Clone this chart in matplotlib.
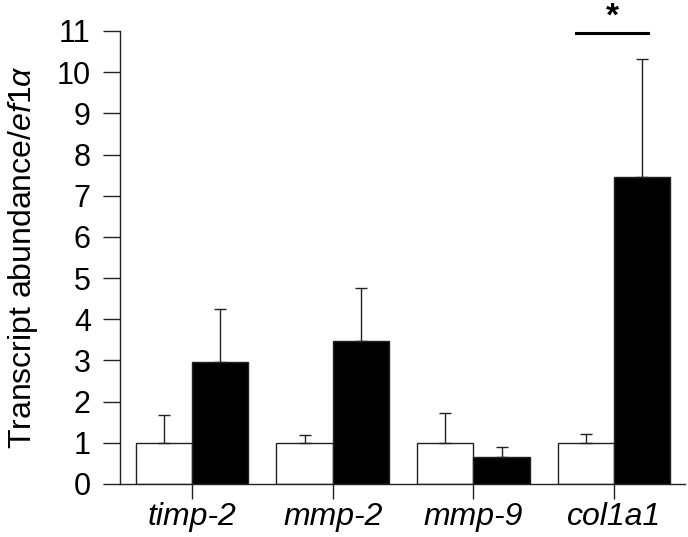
"""Transcript abundance of ECM genes relative to ef1a, control vs treated."""
import matplotlib
matplotlib.use("Agg")
import matplotlib.pyplot as plt
import numpy as np

genes = ["timp-2", "mmp-2", "mmp-9", "col1a1"]
control = [1.0, 1.0, 1.0, 1.0]
control_err = [0.68, 0.20, 0.73, 0.22]
treated = [2.97, 3.48, 0.65, 7.45]
treated_err = [1.28, 1.28, 0.25, 2.87]

plt.rcParams["font.family"] = ["Liberation Sans", "DejaVu Sans"]
plt.rcParams["mathtext.fontset"] = "custom"
plt.rcParams["mathtext.rm"] = "Liberation Sans"
plt.rcParams["mathtext.it"] = "Liberation Sans:italic"

LINE = "#222222"

fig = plt.figure(figsize=(6.88, 5.37), dpi=100)
ax = fig.add_axes([0.1744, 0.0987, 0.8212, 0.8436])

x = np.arange(len(genes))
w = 0.4
err_kw = dict(ecolor=LINE, elinewidth=1.0, capsize=4.3, capthick=1.0)
ax.bar(x - w / 2, control, w, color="white", edgecolor=LINE, linewidth=1.0,
       yerr=[np.zeros(len(genes)), control_err], error_kw=err_kw)
ax.bar(x + w / 2, treated, w, color="black", edgecolor=LINE, linewidth=1.0,
       yerr=[np.zeros(len(genes)), treated_err], error_kw=err_kw)

# significance marker over col1a1
ax.plot([2.73, 3.24], [10.95, 10.95], color="black", linewidth=2.2, clip_on=False)
ax.text(2.985, 11.12, "*", ha="center", va="baseline", fontsize=24,
        fontweight="bold", clip_on=False)

ax.set_xlim(-0.512, 3.504)
ax.set_ylim(0, 11)
ax.set_yticks(range(0, 12))
ax.set_xticks(x)
ax.set_xticklabels(genes, fontsize=23, style="italic")
ax.tick_params(axis="y", direction="out", length=12, width=1.0, color=LINE,
               labelsize=22, pad=9)
ax.tick_params(axis="x", direction="out", length=11, width=1.0, color=LINE,
               pad=2)
for s in ("top", "right"):
    ax.spines[s].set_visible(False)
for s in ("left", "bottom"):
    ax.spines[s].set_color(LINE)
    ax.spines[s].set_linewidth(1.0)

ax.set_ylabel(r"Transcript abundance/$\mathit{ef1\alpha}$", fontsize=23, labelpad=12)

fig.savefig("out.png", dpi=100)
